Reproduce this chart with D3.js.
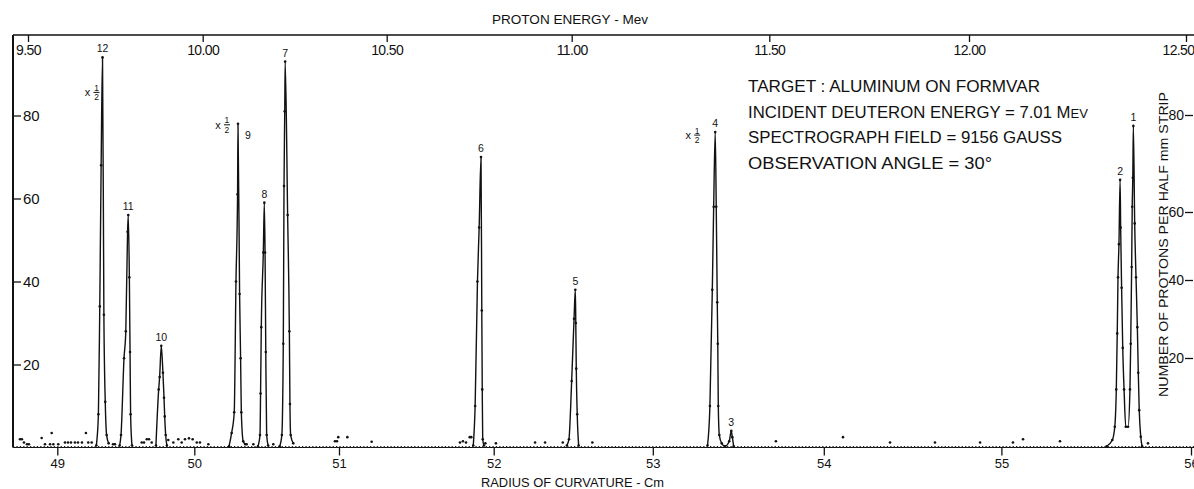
<!DOCTYPE html>
<html>
<head>
<meta charset="utf-8">
<script src="https://cdn.jsdelivr.net/npm/d3@7"></script>
<style>
  html, body { margin: 0; padding: 0; background: #fff; }
  svg { display: block; font-family: "Liberation Sans", Arial, sans-serif; }
  .axis line { stroke: #111; stroke-width: 1.3; }
  .axis text { fill: #111; }
  .peak { fill: none; stroke: #111; stroke-width: 1.4; }
  .dot { fill: #111; }
  text { fill: #111; }
</style>
</head>
<body>
<div id="chart"></div>
<script>
// ---- data ----
const radiusTicks = [49, 50, 51, 52, 53, 54, 55, 56];
const energyTicks = [9.5, 10.0, 10.5, 11.0, 11.5, 12.0, 12.5];
const countTicks = [20, 40, 60, 80];

// peak numbers, positions (cm) and heights (protons / half mm strip)
const peakNames = ["12", "11", "10", "9", "8", "7", "6", "5", "4", "3", "2", "1"];
const peakRadius = [49.33, 49.518, 49.759, 50.302, 50.484, 50.628, 51.918, 52.513, 53.365, 53.459, 55.626, 55.696];
const peakCounts = [94, 56, 24.5, 78, 59, 93, 70, 38, 76, 4, 64.5, 77.5];
const halfScaledPeaks = ["12", "9", "4"];

// measured points of each group: [radius cm, count]
const peak12 = [[49.285, 0.5], [49.30, 8], [49.31, 34], [49.32, 68], [49.33, 94], [49.34, 32], [49.35, 11], [49.36, 3], [49.375, 1]];
const peak11 = [[49.455, 0.5], [49.465, 3], [49.487, 21.5], [49.50, 28], [49.513, 52], [49.518, 56], [49.526, 41], [49.531, 23], [49.535, 8], [49.545, 0.5]];
const peak10 = [[49.72, 0.5], [49.74, 14], [49.747, 17], [49.759, 24.5], [49.771, 18], [49.779, 12], [49.784, 7.5], [49.791, 3], [49.80, 0.5]];
const peak9 = [[50.24, 0.3], [50.258, 3.5], [50.276, 8.5], [50.288, 40], [50.299, 61], [50.302, 78], [50.313, 37], [50.32, 21.5], [50.325, 8.5], [50.338, 1.5], [50.352, 0.8]];
const peak8 = [[50.44, 0.3], [50.454, 3], [50.458, 13], [50.463, 29], [50.477, 47], [50.484, 59], [50.489, 47], [50.494, 23], [50.50, 3], [50.51, 0.5]];
const peak7 = [[50.59, 0.3], [50.605, 3], [50.615, 25], [50.62, 63], [50.625, 81], [50.628, 93], [50.645, 56], [50.657, 28], [50.661, 10.5], [50.666, 3], [50.684, 1]];
const peak6 = [[51.868, 0.5], [51.88, 10], [51.895, 40], [51.906, 53], [51.918, 70], [51.923, 33], [51.926, 14], [51.929, 2], [51.937, 0.5]];
const peak5 = [[52.46, 0.5], [52.473, 2], [52.49, 16], [52.505, 31], [52.513, 38], [52.516, 30], [52.519, 19], [52.525, 8], [52.534, 0.5]];
const peak4and3 = [[53.32, 0.5], [53.334, 10], [53.348, 38], [53.356, 58], [53.365, 76], [53.371, 58], [53.377, 35], [53.38, 25], [53.383, 10], [53.389, 3], [53.403, 1], [53.422, 0.3], [53.447, 1.5], [53.459, 4], [53.465, 2.5], [53.473, 0.3]];
const peak2and1 = [[55.555, 0.3], [55.585, 1.8], [55.598, 5], [55.606, 14], [55.611, 27.5], [55.615, 41], [55.620, 49], [55.626, 64.5], [55.629, 53], [55.634, 38.5], [55.640, 24], [55.647, 14], [55.656, 5], [55.668, 5], [55.678, 14], [55.682, 25], [55.687, 43.5], [55.690, 58], [55.693, 65], [55.696, 77.5], [55.703, 54], [55.710, 41], [55.717, 29], [55.722, 18], [55.727, 9], [55.735, 2.6], [55.742, 0.3]];

// stray background counts above the base line
const backgroundDots = [
  [48.728, 2], [48.742, 2], [48.757, 1.2], [48.779, 0.8], [48.793, 0.8],
  [48.886, 2.3], [48.910, 0.8], [48.947, 0.8], [48.959, 3.5], [48.971, 0.8], [49.007, 0.8],
  [49.056, 1.2], [49.078, 1.2], [49.100, 1.2], [49.129, 1.2], [49.151, 1.2], [49.180, 1.2],
  [49.209, 3.5], [49.226, 1.2], [49.251, 1.2], [49.407, 0.8], [49.421, 0.8],
  [49.616, 1.2], [49.633, 1.2], [49.653, 2], [49.669, 2], [49.689, 1.2],
  [49.810, 1.8], [49.847, 1.2], [49.883, 2], [49.908, 1.2], [49.932, 2], [49.961, 2.2],
  [49.988, 2], [50.017, 1.2], [50.039, 1.2], [50.097, 0.8],
  [50.362, 0.8], [50.408, 0.8], [50.546, 0.8],
  [50.972, 1.5], [50.986, 1.5], [50.995, 2.5], [51.054, 2.5], [51.211, 1.4],
  [51.782, 1.2], [51.801, 1.5], [51.821, 1.2], [51.845, 2.5], [51.855, 2.5],
  [51.946, 1], [52.014, 1], [52.260, 1.2], [52.323, 1.2], [52.434, 1.2], [52.620, 1.2],
  [53.720, 1.5], [54.108, 2.5], [54.373, 1.2], [54.626, 1.2], [54.880, 1.2],
  [55.061, 1.2], [55.114, 2], [55.309, 1.5], [55.773, 1]
];

const annotationLines = [
  "TARGET : ALUMINUM ON FORMVAR",
  "INCIDENT DEUTERON ENERGY = 7.01 M",
  "SPECTROGRAPH FIELD = 9156 GAUSS",
  "OBSERVATION ANGLE = 30°"
];

// ---- layout ----
const W = 1194, H = 489;
const plotLeft = 13, plotTop = 35, plotRight = 1193;

const svg = d3.select("#chart").append("svg").attr("width", W).attr("height", H);
svg.append("rect").attr("width", W).attr("height", H).attr("fill", "#fff");

// the plate is not uniform, so each scale is pinned to its drawn tick marks
const x = d3.scaleLinear()
  .domain([48.677, ...radiusTicks])
  .range([plotLeft, 57.3, 194.3, 339, 493.7, 652.8, 823.8, 1001.4, 1191]);

const xTop = d3.scaleLinear()
  .domain(energyTicks)
  .range([28, 202.7, 386.7, 571.7, 769.3, 969, 1186]);

const y = d3.scaleLinear().domain([0, 80]).range([447.5, 115.5]);
const yRight = d3.scaleLinear().domain([0, ...countTicks]).range([447.5, 358, 280, 212, 115]);

// frame
svg.append("line")
  .attr("x1", plotLeft).attr("x2", W).attr("y1", plotTop).attr("y2", plotTop)
  .attr("stroke", "#111").attr("stroke-width", 1.6);
svg.append("line")
  .attr("x1", plotLeft).attr("x2", plotLeft).attr("y1", plotTop).attr("y2", y(0))
  .attr("stroke", "#111").attr("stroke-width", 2);

// base line: thin rule with the dense zero counts on it
svg.append("line")
  .attr("x1", plotLeft).attr("x2", W).attr("y1", y(0)).attr("y2", y(0))
  .attr("stroke", "#111").attr("stroke-width", 1);
svg.append("line")
  .attr("x1", plotLeft).attr("x2", W).attr("y1", y(0) - 0.5).attr("y2", y(0) - 0.5)
  .attr("stroke", "#222").attr("stroke-width", 2.2).attr("stroke-dasharray", "1.3,2.1");

// axes
const gBottom = svg.append("g").attr("class", "axis")
  .attr("transform", `translate(0,${y(0)})`)
  .call(d3.axisBottom(x).tickValues(radiusTicks).tickSize(8).tickPadding(3).tickFormat(d3.format("d")));
gBottom.select(".domain").remove();
gBottom.attr("font-family", null).attr("font-size", 13);

const gTop = svg.append("g").attr("class", "axis")
  .attr("transform", `translate(0,${plotTop})`)
  .call(d3.axisBottom(xTop).tickValues(energyTicks).tickSize(7).tickPadding(3).tickFormat(d3.format(".2f")));
gTop.select(".domain").remove();
gTop.attr("font-family", null).attr("font-size", 14);
gTop.selectAll("text").attr("letter-spacing", -0.6);
// last label is squeezed against the page edge
gTop.selectAll(".tick").filter((d) => d === 12.5).select("text")
  .attr("text-anchor", "end").attr("x", W - xTop(12.5));

const gLeft = svg.append("g").attr("class", "axis")
  .attr("transform", `translate(${plotLeft},0)`)
  .call(d3.axisRight(y).tickValues(countTicks).tickSize(8).tickPadding(2));
gLeft.select(".domain").remove();
gLeft.attr("font-family", null).attr("font-size", 15);

const gRight = svg.append("g").attr("class", "axis")
  .attr("transform", `translate(${plotRight},0)`)
  .call(d3.axisLeft(yRight).tickValues(countTicks).tickSize(8).tickPadding(1));
gRight.select(".domain").remove();
gRight.attr("font-family", null).attr("font-size", 14);

// axis titles
svg.append("text")
  .attr("x", 570).attr("y", 24).attr("text-anchor", "middle")
  .attr("font-size", 13).attr("textLength", 156).attr("lengthAdjust", "spacingAndGlyphs")
  .text("PROTON ENERGY - Mev");

svg.append("text")
  .attr("x", 572.5).attr("y", 487).attr("text-anchor", "middle")
  .attr("font-size", 12).attr("textLength", 183).attr("lengthAdjust", "spacingAndGlyphs")
  .text("RADIUS OF CURVATURE - Cm");

// rotated: the baseline sits on the right, caps grow to the left
svg.append("text")
  .attr("transform", "translate(1167.5,244.5) rotate(-90)")
  .attr("text-anchor", "middle")
  .attr("font-size", 13.5).attr("textLength", 305).attr("lengthAdjust", "spacingAndGlyphs")
  .text("NUMBER OF PROTONS PER HALF mm STRIP");

// peaks
const line = d3.line()
  .x((d) => x(d[0]))
  .y((d) => y(d[1]))
  .curve(d3.curveMonotoneX);

const peakGroups = [peak12, peak11, peak10, peak9, peak8, peak7, peak6, peak5, peak4and3, peak2and1];
peakGroups.forEach((pts) => {
  svg.append("path").attr("class", "peak").attr("d", line(pts));
  svg.selectAll(null)
    .data(pts)
    .enter()
    .append("circle")
    .attr("class", "dot")
    .attr("cx", (d) => x(d[0]))
    .attr("cy", (d) => y(d[1]))
    .attr("r", 1.3);
});

svg.selectAll(".bg")
  .data(backgroundDots)
  .enter()
  .append("circle")
  .attr("class", "dot bg")
  .attr("cx", (d) => x(d[0]))
  .attr("cy", (d) => y(d[1]))
  .attr("r", 1.3);

// peak numbers
const labelOffset = { "9": [10, 15] };
peakNames.forEach((name, i) => {
  const off = labelOffset[name] || [0, -5];
  svg.append("text")
    .attr("x", x(peakRadius[i]) + off[0])
    .attr("y", y(peakCounts[i]) + off[1])
    .attr("text-anchor", "middle")
    .attr("font-size", 10.5)
    .text(name);
});

// "x 1/2" marks beside the halved peaks
const halfOffset = { "12": [-15, 35], "9": [-20, 1], "4": [-27, 3] };
halfScaledPeaks.forEach((name) => {
  const i = peakNames.indexOf(name);
  const cx = x(peakRadius[i]) + halfOffset[name][0];
  const cy = y(peakCounts[i]) + halfOffset[name][1];
  const g = svg.append("g").attr("transform", `translate(${cx},${cy})`);
  g.append("text").attr("x", 0).attr("y", 0).attr("text-anchor", "middle")
    .attr("dominant-baseline", "central").attr("font-size", 11).text("x");
  g.append("text").attr("x", 9).attr("y", -1.5).attr("text-anchor", "middle")
    .attr("font-size", 8.5).text("1");
  g.append("line").attr("x1", 6).attr("x2", 12).attr("y1", 0).attr("y2", 0)
    .attr("stroke", "#111").attr("stroke-width", 1);
  g.append("text").attr("x", 9).attr("y", 8).attr("text-anchor", "middle")
    .attr("font-size", 8.5).text("2");
});

// run conditions
const noteWidths = [292, 340, 314, 244];
annotationLines.forEach((t, i) => {
  const txt = svg.append("text")
    .attr("x", 748)
    .attr("y", 92.3 + i * 25.5)
    .attr("font-size", 16)
    .attr("textLength", noteWidths[i])
    .attr("lengthAdjust", "spacingAndGlyphs")
    .text(t);
  if (i === 1) txt.append("tspan").attr("font-size", 12.5).text("EV");
});
</script>
</body>
</html>
